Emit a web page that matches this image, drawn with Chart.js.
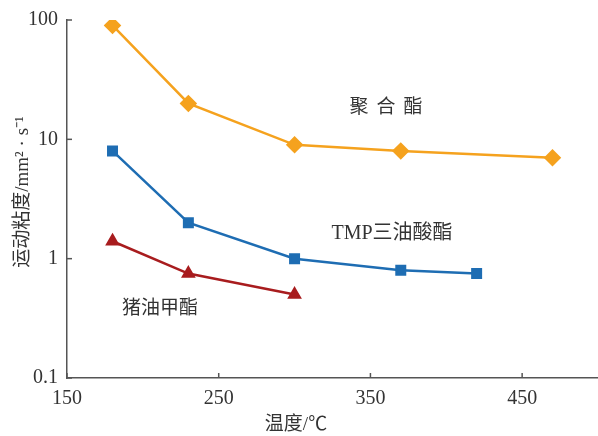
<!DOCTYPE html>
<html><head><meta charset="utf-8">
<script src="https://cdn.jsdelivr.net/npm/chart.js@4.4.0/dist/chart.umd.min.js"></script>
<style>html,body{margin:0;padding:0;background:#fff}#wrap{width:598px;height:436px}</style>
</head><body><div id="wrap"><canvas id="c" width="598" height="436"></canvas></div>
<script>
const temps1 = [180, 230, 300, 370, 470];
const polyester = [90, 20, 9, 8, 7];
const temps2 = [180, 230, 300, 370, 420];
const tmpOleate = [8, 2, 1.0, 0.8, 0.75];
const temps3 = [180, 230, 300];
const lardMethyl = [1.4, 0.75, 0.5];
const xTicks = [150, 250, 350, 450];
const yTicks = [0.1, 1, 10, 100];
const seriesNames = ['聚合酯', 'TMP三油酸酯', '猪油甲酯'];
const xTitle = '温度/℃';
const yTitle = '运动粘度/mm² · s⁻¹';

const serif = '"Liberation Serif", "Noto Sans CJK SC", serif';
const textColor = '#333';
const axisColor = '#555';

function pts(xs, ys){ return xs.map((x,i)=>({x:x, y:ys[i]})); }

const annot = {
  id: 'annot',
  afterDraw(chart){
    const ctx = chart.ctx, xs = chart.scales.x, ys = chart.scales.y;
    ctx.save();
    ctx.strokeStyle = axisColor; ctx.lineWidth = 1.5;
    xTicks.forEach(v=>{ const p = xs.getPixelForValue(v); ctx.beginPath(); ctx.moveTo(p, ys.bottom); ctx.lineTo(p, ys.bottom-5); ctx.stroke(); });
    yTicks.forEach(v=>{ const p = ys.getPixelForValue(v); ctx.beginPath(); ctx.moveTo(xs.left, p); ctx.lineTo(xs.left+5, p); ctx.stroke(); });
    ctx.fillStyle = textColor;
    ctx.font = '19px ' + serif;
    ctx.textBaseline = 'middle';
    ctx.textAlign = 'center';
    ctx.save(); ctx.letterSpacing = '8px'; ctx.fillText(seriesNames[0], 390, 108); ctx.restore();
    ctx.save(); ctx.font = '20px ' + serif; ctx.fillText(seriesNames[1], 392, 234); ctx.restore();
    ctx.fillText(seriesNames[2], 160, 309);
    ctx.fillText(xTitle, 296, 425);
    ctx.translate(23, 192); ctx.rotate(-Math.PI/2);
    ctx.fillText(yTitle, 0, 0);
    ctx.restore();
  }
};

new Chart(document.getElementById('c'), {
  type: 'line',
  data: {
    datasets: [
      { label: seriesNames[0], data: pts(temps1, polyester), borderColor: '#F5A21E', backgroundColor: '#F5A21E', pointStyle: 'rectRot', pointRadius: 7, borderWidth: 2.5 },
      { label: seriesNames[1], data: pts(temps2, tmpOleate), borderColor: '#1E6DB3', backgroundColor: '#1E6DB3', pointStyle: 'rect', pointRadius: 6, borderWidth: 2.5 },
      { label: seriesNames[2], data: pts(temps3, lardMethyl), borderColor: '#A81C1E', backgroundColor: '#A81C1E', pointStyle: 'triangle', pointRadius: 6, borderWidth: 2.5 }
    ]
  },
  options: {
    responsive: false, animation: false,
    layout: { autoPadding: false, padding: { top: 20, left: 0, right: 0, bottom: 0 } },
    plugins: { legend: { display: false }, tooltip: { enabled: false } },
    scales: {
      x: {
        type: 'linear', min: 150, max: 500,
        afterBuildTicks: s => { s.ticks = xTicks.map(v=>({value:v})); },
        afterFit: s => { s.height = 58; s.paddingLeft = 0; s.paddingRight = 0; },
        grid: { display: false, drawTicks: false },
        border: { display: true, color: axisColor, width: 1.5 },
        ticks: { color: textColor, font: { family: serif, size: 20 }, padding: 9, maxRotation: 0 }
      },
      y: {
        type: 'logarithmic', min: 0.1, max: 100,
        afterBuildTicks: s => { s.ticks = yTicks.map(v=>({value:v})); },
        afterFit: s => { s.width = 67; s.paddingTop = 0; s.paddingBottom = 0; },
        grid: { display: false, drawTicks: false },
        border: { display: true, color: axisColor, width: 1.5 },
        ticks: { color: textColor, font: { family: serif, size: 20 }, padding: 9, callback: v => String(v) }
      }
    }
  },
  plugins: [annot]
});
</script></body></html>
